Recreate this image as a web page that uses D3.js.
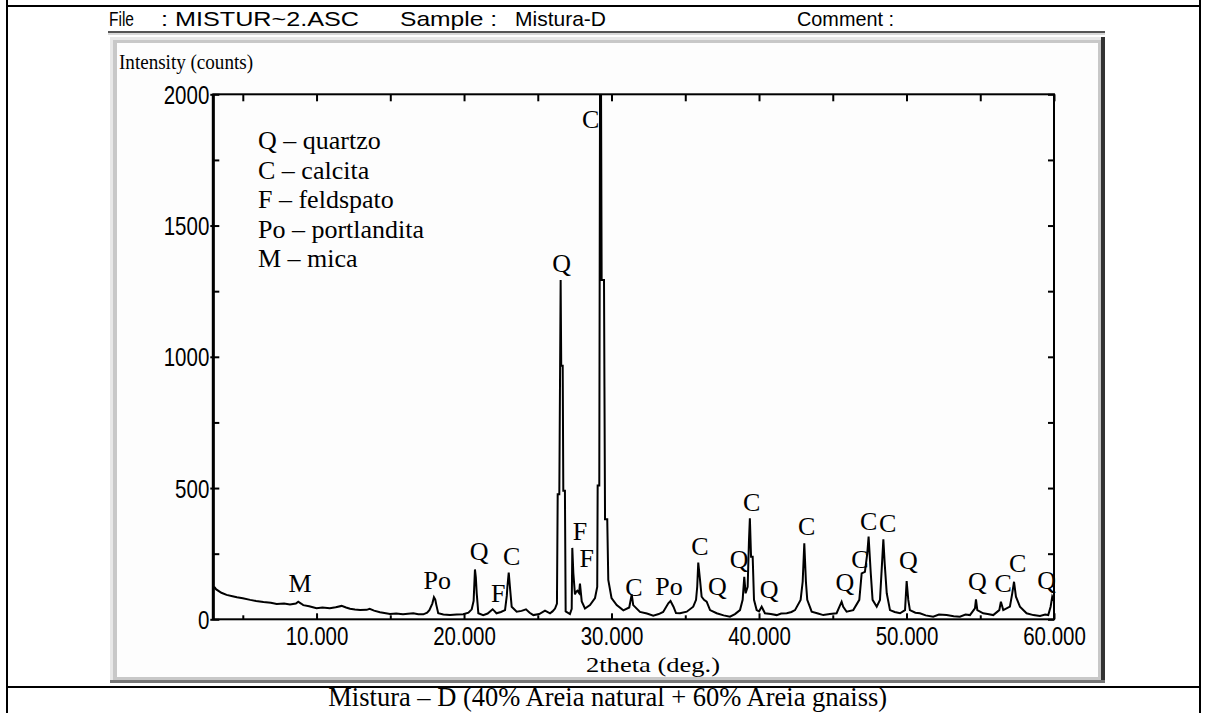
<!DOCTYPE html>
<html>
<head>
<meta charset="utf-8">
<script src="https://cdn.jsdelivr.net/npm/d3@7"></script>
<style>
    body { margin: 0; background: #fff; }
    svg { display: block; }
    .hdr { font-family: 'Liberation Sans', Arial, sans-serif; font-size: 21px; fill: #000; }
    .tick-label { font-family: 'Liberation Sans', Arial, sans-serif; font-size: 25px; fill: #000; }
    .serif { font-family: 'Liberation Serif', 'Times New Roman', serif; fill: #000; }
</style>
</head>
<body>
<div id="chart"></div>
<script>
// diffractogram trace (2theta in degrees, intensity in counts)
const twoTheta = [
    3.05, 3.2, 3.55, 3.9, 4.3, 4.6, 5.0, 5.5, 5.9, 6.4, 6.9, 7.3, 7.8, 8.2, 8.6, 8.76, 8.95, 9.1, 9.5, 10.0,
    10.4, 10.9, 11.3, 11.7, 12.0, 12.27, 12.6, 12.95, 13.4, 13.6, 13.9, 14.3, 14.6, 14.98, 15.4, 15.86, 16.2, 16.56, 16.9, 17.24,
    17.5, 17.65, 17.85, 17.96, 18.05, 18.12, 18.25, 18.6, 19.05, 19.5, 19.95, 20.3, 20.52, 20.65, 20.74, 20.8, 20.86, 20.97, 21.3, 21.6,
    21.94, 22.05, 22.2, 22.5, 22.78, 22.9, 22.94, 23.03, 23.12, 23.23, 23.57, 23.9, 24.2, 24.45, 24.7, 25.1, 25.49, 25.83, 26.0, 26.17,
    26.3, 26.35, 26.46, 26.55, 26.59, 26.69, 26.73, 26.84, 26.89, 27.18, 27.3, 27.34, 27.41, 27.52, 27.6, 27.68, 27.8, 27.86, 27.98, 28.2,
    28.54, 28.88, 29.03, 29.06, 29.17, 29.22, 29.29, 29.33, 29.49, 29.52, 29.56, 29.71, 29.78, 30.0, 30.35, 30.8, 31.2, 31.37, 31.47, 31.93,
    32.4, 32.83, 33.2, 33.5, 33.85, 34.0, 34.2, 34.37, 34.64, 35.1, 35.54, 35.73, 35.81, 35.88, 36.0, 36.11, 36.27, 36.45, 36.68, 37.13,
    37.6, 38.03, 38.37, 38.71, 38.89, 39.0, 39.09, 39.23, 39.32, 39.38, 39.46, 39.57, 39.66, 39.84, 40.0, 40.18, 40.4, 40.8, 41.2, 41.5,
    41.88, 42.2, 42.44, 42.82, 42.96, 43.07, 43.18, 43.27, 43.57, 44.0, 44.36, 44.8, 45.26, 45.6, 45.71, 45.94, 46.39, 46.8, 46.96, 47.18,
    47.34, 47.43, 47.57, 47.7, 47.98, 48.2, 48.34, 48.43, 48.52, 48.66, 48.88, 49.2, 49.56, 49.9, 50.01, 50.12, 50.23, 50.6, 50.91, 51.3,
    51.81, 52.2, 52.72, 53.2, 53.62, 54.0, 54.3, 54.64, 54.71, 54.8, 55.2, 55.5, 55.88, 56.29, 56.4, 56.56, 57.01, 57.17, 57.29, 57.42,
    57.69, 58.14, 58.6, 59.05, 59.4, 59.61, 59.77, 59.88, 60.0
];
const counts = [
    124, 114, 101, 93, 88, 84, 80, 74, 70, 66, 63, 58, 60, 56, 60, 67, 60, 54, 50, 42,
    45, 42, 46, 51, 45, 40, 37, 35, 36, 40, 33, 27, 24, 20, 22, 19, 21, 23, 19, 19,
    25, 35, 60, 84, 75, 55, 23, 18, 16, 18, 19, 25, 38, 70, 190, 160, 99, 23, 16, 22,
    38, 32, 23, 28, 35, 90, 124, 178, 118, 48, 29, 32, 38, 25, 16, 20, 33, 23, 30, 41,
    60, 476, 476, 1293, 966, 966, 490, 490, 30, 20, 40, 272, 177, 95, 105, 109, 100, 136, 68, 41,
    54, 81, 123, 510, 510, 2000, 2000, 1293, 1293, 885, 381, 381, 150, 81, 54, 34, 45, 95, 54, 28,
    22, 14, 20, 28, 61, 70, 48, 24, 23, 29, 48, 74, 124, 216, 150, 86, 74, 67, 35, 23,
    15, 10, 20, 35, 74, 162, 99, 124, 302, 385, 238, 238, 74, 35, 30, 48, 23, 20, 16, 22,
    23, 28, 35, 74, 143, 290, 143, 74, 29, 22, 16, 20, 23, 67, 48, 29, 35, 74, 175, 181,
    251, 315, 181, 74, 48, 74, 213, 305, 213, 99, 35, 28, 23, 35, 146, 74, 35, 25, 23, 15,
    10, 18, 16, 12, 10, 18, 16, 42, 76, 35, 23, 20, 16, 35, 67, 35, 48, 99, 143, 86,
    48, 23, 16, 13, 18, 16, 48, 86, 70
];

const xDomain = [3, 60];
const yDomain = [0, 2000];
const xTickValues = [5, 10, 15, 20, 25, 30, 35, 40, 45, 50, 55, 60];
const xTickLabels = { 10: '10.000', 20: '20.000', 30: '30.000', 40: '40.000', 50: '50.000', 60: '60.000' };
const yTickValues = [0, 250, 500, 750, 1000, 1250, 1500, 1750, 2000];
const yTickLabels = { 0: '0', 500: '500', 1000: '1000', 1500: '1500', 2000: '2000' };

// phase labels over the peaks (text centre, in data units)
const peakNames = ['M', 'Po', 'Q', 'F', 'C', 'Q', 'C', 'F', 'F', 'C', 'Po', 'C', 'Q', 'Q', 'C', 'Q', 'C', 'Q', 'C', 'C', 'C', 'Q', 'Q', 'C', 'C', 'Q'];
const peakNameTheta = [8.88, 18.19, 21.03, 22.32, 23.23, 26.62, 28.59, 27.86, 28.32, 31.52, 33.9, 35.99, 37.17, 38.66, 39.5, 40.69, 43.23, 45.83, 46.84, 47.43, 48.72, 50.12, 54.8, 56.56, 57.54, 59.5];
const peakNameCounts = [137, 147, 258, 99, 241, 1354, 1905, 333, 231, 123, 124, 277, 124, 229, 444, 114, 355, 139, 229, 372, 366, 223, 146, 137, 211, 150];

const legendLines = ['Q – quartzo', 'C – calcita', 'F – feldspato', 'Po – portlandita', 'M – mica'];

const headerItems = [
    { text: 'File', x: 109, w: 25 },
    { text: ': MISTUR~2.ASC', x: 161, w: 198 },
    { text: 'Sample :', x: 400, w: 97 },
    { text: 'Mistura-D', x: 515, w: 91 },
    { text: 'Comment :', x: 797, w: 97 }
];

const caption = 'Mistura – D (40% Areia natural + 60% Areia gnaiss)';

const narrow = 0.82;

drawChart(document.getElementById('chart'));

function drawChart(element) {
    const width = 1207;
    const height = 713;
    const plot = { left: 213.3, right: 1054, top: 94.3, bottom: 619.3 };

    const svg = d3.select(element)
        .append('svg')
        .attr('width', width)
        .attr('height', height)
        .attr('viewBox', `0 0 ${width} ${height}`);

    svg.append('rect').attr('width', width).attr('height', height).attr('fill', '#fff');

    // document table borders
    const border = svg.append('g').attr('stroke', '#000').attr('stroke-width', 2);
    border.append('line').attr('x1', 7).attr('x2', 7).attr('y1', 0).attr('y2', height);
    border.append('line').attr('x1', 1200).attr('x2', 1200).attr('y1', 0).attr('y2', height);
    border.append('line').attr('x1', 7).attr('x2', 1200).attr('y1', 6).attr('y2', 6);
    border.append('line').attr('x1', 7).attr('x2', 1200).attr('y1', 687).attr('y2', 687);

    // header row
    svg.append('g')
        .selectAll('text')
        .data(headerItems)
        .join('text')
        .attr('class', 'hdr')
        .attr('x', d => d.x)
        .attr('y', 26)
        .attr('textLength', d => d.w)
        .attr('lengthAdjust', 'spacingAndGlyphs')
        .text(d => d.text);

    svg.append('line').attr('x1', 108).attr('x2', 1105).attr('y1', 32).attr('y2', 32)
        .attr('stroke', '#555').attr('stroke-width', 2);
    svg.append('line').attr('x1', 108).attr('x2', 1105).attr('y1', 34).attr('y2', 34)
        .attr('stroke', '#ccc').attr('stroke-width', 1.5);

    // chart window with a 3D bevel
    svg.append('rect').attr('x', 110).attr('y', 37).attr('width', 994).attr('height', 645).attr('fill', '#c8c8c8');
    svg.append('rect').attr('x', 110).attr('y', 37).attr('width', 3).attr('height', 645).attr('fill', '#e8e8e8');
    svg.append('rect').attr('x', 110).attr('y', 37).attr('width', 994).attr('height', 3).attr('fill', '#e8e8e8');
    svg.append('rect').attr('x', 1101).attr('y', 37).attr('width', 4).attr('height', 646).attr('fill', '#333');
    svg.append('rect').attr('x', 110).attr('y', 680).attr('width', 995).attr('height', 3).attr('fill', '#777');
    svg.append('rect').attr('x', 117).attr('y', 43).attr('width', 981).attr('height', 634).attr('fill', '#fdfdfd');

    svg.append('text')
        .attr('class', 'serif')
        .attr('x', 119)
        .attr('y', 69)
        .attr('font-size', 21)
        .attr('textLength', 134)
        .attr('lengthAdjust', 'spacingAndGlyphs')
        .text('Intensity (counts)');

    const x = d3.scaleLinear().domain(xDomain).range([plot.left, plot.right]);
    const y = d3.scaleLinear().domain(yDomain).range([plot.bottom, plot.top]);

    // bottom axis: ticks point inwards, labels below
    const bottom = svg.append('g')
        .attr('transform', `translate(0,${plot.bottom})`)
        .call(d3.axisBottom(x)
            .tickValues(xTickValues)
            .tickSizeInner(-4)
            .tickSizeOuter(0)
            .tickPadding(8)
            .tickFormat(d => xTickLabels[d] || ''));
    bottom.select('.domain').remove();
    bottom.selectAll('.tick line').attr('stroke', '#000').attr('stroke-width', 2)
        .attr('y2', d => xTickLabels[d] ? -6 : -4);
    bottom.selectAll('.tick text')
        .attr('class', 'tick-label')
        .attr('font-size', null).attr('font-family', null)
        .attr('transform', `scale(${narrow},1)`);

    const top = svg.append('g')
        .attr('transform', `translate(0,${plot.top})`)
        .call(d3.axisTop(x).tickValues(xTickValues).tickSizeInner(-7).tickSizeOuter(0).tickFormat(''));
    top.select('.domain').remove();
    top.selectAll('.tick line').attr('stroke', '#000').attr('stroke-width', 2);

    const left = svg.append('g')
        .attr('transform', `translate(${plot.left},0)`)
        .call(d3.axisLeft(y)
            .tickValues(yTickValues)
            .tickSizeInner(-6)
            .tickSizeOuter(0)
            .tickPadding(4)
            .tickFormat(d => yTickLabels[d] || ''));
    left.select('.domain').remove();
    left.selectAll('.tick line').attr('stroke', '#000').attr('stroke-width', 2)
        .attr('x1', d => yTickLabels[d] !== undefined ? -3 : 0);
    left.selectAll('.tick text')
        .attr('class', 'tick-label')
        .attr('font-size', null).attr('font-family', null)
        .attr('x', -4 / narrow)
        .attr('dy', '0.36em')
        .attr('transform', `scale(${narrow},1)`);

    const right = svg.append('g')
        .attr('transform', `translate(${plot.right},0)`)
        .call(d3.axisRight(y).tickValues(yTickValues).tickSizeInner(-6).tickSizeOuter(0).tickFormat(''));
    right.select('.domain').remove();
    right.selectAll('.tick line').attr('stroke', '#000').attr('stroke-width', 2);

    // plot frame
    svg.append('rect')
        .attr('x', plot.left).attr('y', plot.top)
        .attr('width', plot.right - plot.left).attr('height', plot.bottom - plot.top)
        .attr('fill', 'none').attr('stroke', '#000').attr('stroke-width', 2);
    svg.append('line')
        .attr('x1', plot.left).attr('x2', plot.left).attr('y1', plot.top).attr('y2', plot.bottom)
        .attr('stroke', '#000').attr('stroke-width', 3);

    svg.append('clipPath').attr('id', 'plot-clip')
        .append('rect')
        .attr('x', plot.left).attr('y', plot.top)
        .attr('width', plot.right - plot.left).attr('height', plot.bottom - plot.top);

    const line = d3.line()
        .x(i => x(twoTheta[i]))
        .y(i => y(counts[i]));

    svg.append('path')
        .datum(d3.range(twoTheta.length))
        .attr('clip-path', 'url(#plot-clip)')
        .attr('fill', 'none')
        .attr('stroke', '#000')
        .attr('stroke-width', 2)
        .attr('stroke-linejoin', 'miter')
        .attr('d', line);

    // phase labels
    svg.append('g')
        .selectAll('text')
        .data(peakNames)
        .join('text')
        .attr('class', 'serif')
        .attr('font-size', 26)
        .attr('text-anchor', 'middle')
        .attr('x', (d, i) => x(peakNameTheta[i]))
        .attr('y', (d, i) => y(peakNameCounts[i]))
        .attr('dy', '0.33em')
        .text(d => d);

    // legend
    svg.append('g')
        .selectAll('text')
        .data(legendLines)
        .join('text')
        .attr('class', 'serif')
        .attr('font-size', 26)
        .attr('x', 258)
        .attr('y', (d, i) => 149 + i * 29.6)
        .text(d => d);

    svg.append('text')
        .attr('class', 'serif')
        .attr('x', 586)
        .attr('y', 672)
        .attr('font-size', 21)
        .attr('textLength', 134)
        .attr('lengthAdjust', 'spacingAndGlyphs')
        .text('2theta (deg.)');

    svg.append('text')
        .attr('class', 'serif')
        .attr('x', 607.7)
        .attr('y', 706)
        .attr('font-size', 26.5)
        .attr('text-anchor', 'middle')
        .text(caption);
}
</script>
</body>
</html>
